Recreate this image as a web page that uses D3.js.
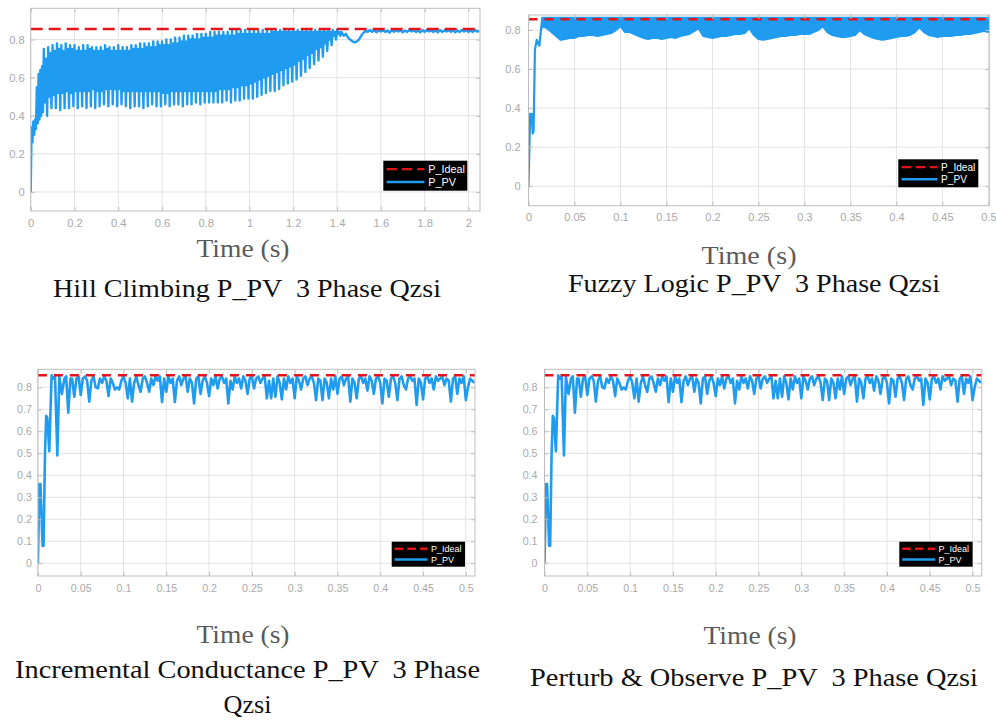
<!DOCTYPE html>
<html>
<head>
<meta charset="utf-8">
<script src="https://cdn.jsdelivr.net/npm/d3@7"></script>
<style>
  body { margin: 0; background: #fff; }
  svg { display: block; }
  text { white-space: pre; }
</style>
</head>
<body>
<svg id="chart" width="996" height="728"></svg>
<script>
// ---------------- data ----------------
const pIdeal = 0.855;

// Hill Climbing: start-up transient (explicit times), oscillation (uniform grid), settled tail
const hcStartT = [0, 0.004, 0.008, 0.012, 0.016, 0.02, 0.024, 0.028, 0.032, 0.036, 0.04, 0.044, 0.048, 0.052, 0.056];
const hcStartV = [0, 0.34, 0.26, 0.37, 0.30, 0.38, 0.33, 0.55, 0.36, 0.62, 0.38, 0.64, 0.40, 0.66, 0.42];
const hcOscT0 = 0.06, hcOscDt = 0.005;
const hcOscV = [
  .75,.47,.70,.40,  .76,.50,.73,.44,  .77,.51,.74,.44,  .78,.52,.75,.43,  .77,.52,.74,.44,
  .78,.53,.75,.44,  .77,.52,.75,.45,  .77,.53,.74,.44,  .76,.53,.74,.45,  .77,.53,.74,.44,
  .77,.53,.75,.45,  .76,.54,.74,.44,  .76,.53,.74,.45,  .76,.53,.74,.46,  .77,.54,.75,.45,
  .76,.54,.74,.46,  .76,.54,.74,.45,  .77,.54,.74,.46,  .76,.53,.74,.45,  .76,.53,.74,.44,
  .77,.53,.75,.45,  .77,.53,.75,.45,  .78,.53,.75,.44,  .78,.53,.76,.45,  .78,.53,.76,.46,
  .79,.53,.76,.45,  .79,.53,.77,.45,  .79,.52,.77,.46,  .80,.52,.77,.45,  .80,.53,.78,.46,
  .81,.53,.78,.46,  .81,.53,.79,.45,  .82,.53,.79,.46,  .82,.53,.80,.46,  .82,.53,.80,.47,
  .83,.53,.80,.46,  .83,.53,.81,.47,  .83,.53,.81,.47,  .84,.53,.81,.47,  .84,.53,.82,.47,
  .84,.54,.82,.47,  .84,.54,.82,.48,  .84,.54,.82,.47,  .85,.55,.82,.48,  .85,.55,.83,.48,
  .85,.56,.83,.49,  .85,.56,.83,.49,  .85,.57,.83,.49,  .85,.58,.83,.50,  .85,.59,.83,.51,
  .85,.60,.83,.52,  .85,.61,.83,.53,  .85,.62,.84,.53,  .85,.63,.84,.54,  .85,.64,.84,.56,
  .85,.65,.84,.57,  .85,.66,.84,.58,  .85,.67,.84,.59,  .85,.69,.84,.61,  .85,.70,.84,.63,
  .85,.72,.84,.65,  .85,.73,.84,.67,  .85,.75,.84,.69,  .85,.76,.84,.71,  .85,.78,.84,.74,
  .85,.80,.84,.77,  .85,.82,.84,.80,  .85,.83,.84,.82
];
const hcTailT0 = 1.42, hcTailDt = 0.01;
const hcTailV = [
  .84,.82,.83,.81,.80,.79,.785,.79,.80,.82,
  .835,.845,.84,.85,.84,.85,.838,.85,.842,.85,
  .84,.848,.836,.85,.84,.85,.842,.85,.838,.848,
  .84,.85,.843,.85,.84,.848,.838,.85,.84,.85,
  .842,.848,.84,.85,.838,.85,.84,.848,.842,.85,
  .84,.85,.838,.848,.84,.85,.842,.85,.84,.848,
  .84,.85,.842,.845
];
const hcXTicks = [0, 0.2, 0.4, 0.6, 0.8, 1, 1.2, 1.4, 1.6, 1.8, 2];
const hcYTicks = [0, 0.2, 0.4, 0.6, 0.8];

// Fuzzy Logic: start-up transient, then a dense ripple band (lower edge per 5 ms bin, upper edge flat)
const flStartT = [0, 0.0018, 0.0035, 0.0045, 0.0055, 0.007, 0.009, 0.0105, 0.0118, 0.0135];
const flStartV = [0, 0.37, 0.37, 0.27, 0.28, 0.70, 0.75, 0.73, 0.72, 0.80];
const flBandT0 = 0.015, flBandDt = 0.005;
const flBandHigh = 0.862;
const flBandLow = [
  .82,.81,.79,.77,.75,.755,.76,.76,.77,.77,
  .775,.775,.77,.775,.78,.785,.80,.82,.79,.79,
  .78,.77,.76,.755,.76,.76,.755,.76,.765,.76,
  .77,.775,.78,.795,.81,.77,.765,.76,.765,.77,
  .77,.775,.78,.78,.785,.81,.775,.755,.75,.755,
  .76,.765,.77,.77,.775,.775,.78,.78,.78,.79,
  .80,.82,.79,.775,.77,.765,.765,.77,.775,.80,
  .78,.77,.76,.755,.75,.755,.76,.765,.77,.77,
  .775,.79,.815,.79,.775,.77,.765,.77,.77,.77,
  .775,.775,.78,.78,.785,.79,.795,.79
];
const flXTicks = [0, 0.05, 0.1, 0.15, 0.2, 0.25, 0.3, 0.35, 0.4, 0.45, 0.5];
const flYTicks = [0, 0.2, 0.4, 0.6, 0.8];

// Incremental Conductance and Perturb & Observe give the same P_PV trace
const icStartT = [0, 0.0017, 0.003, 0.0054, 0.0066, 0.0083, 0.0097, 0.011, 0.0133, 0.016, 0.018, 0.02, 0.0227, 0.025, 0.028, 0.031, 0.033, 0.0355, 0.038];
const icStartV = [0, 0.36, 0.36, 0.08, 0.08, 0.50, 0.67, 0.66, 0.51, 0.855, 0.84, 0.85, 0.49, 0.85, 0.77, 0.84, 0.85, 0.685, 0.84];
const icT0 = 0.04, icDt = 0.0025;
const icV = [
  .84,.757,.84,.85,.765,.84,.85,.83,.735,.83,
  .85,.80,.795,.84,.82,.85,.83,.76,.84,.82,
  .79,.80,.79,.83,.85,.82,.75,.84,.735,.82,
  .85,.81,.78,.84,.85,.82,.78,.84,.81,.85,
  .83,.85,.733,.84,.78,.85,.82,.84,.733,.83,
  .85,.81,.84,.85,.78,.84,.82,.727,.84,.85,
  .77,.83,.85,.82,.76,.84,.81,.85,.795,.84,
  .85,.82,.84,.727,.83,.79,.85,.82,.84,.795,
  .85,.83,.77,.84,.85,.795,.84,.85,.82,.84,
  .85,.75,.83,.75,.84,.757,.85,.82,.745,.84,
  .79,.85,.82,.84,.75,.85,.83,.79,.84,.85,
  .81,.84,.85,.82,.742,.84,.83,.742,.84,.82,
  .75,.84,.79,.85,.77,.84,.85,.81,.84,.85,
  .735,.84,.82,.75,.84,.85,.82,.84,.785,.85,
  .83,.77,.84,.85,.82,.727,.84,.83,.757,.84,
  .85,.82,.742,.84,.85,.81,.79,.84,.85,.83,
  .84,.72,.84,.82,.745,.84,.85,.82,.84,.79,
  .85,.83,.84,.85,.81,.84,.83,.735,.84,.85,
  .77,.84,.82,.85,.742,.80,.84,.83,.82
];
const icXTicks = [0, 0.05, 0.1, 0.15, 0.2, 0.25, 0.3, 0.35, 0.4, 0.45, 0.5];
const icYTicks = [0, 0.1, 0.2, 0.3, 0.4, 0.5, 0.6, 0.7, 0.8];

const legendLabels = ["P_Ideal", "P_PV"];

// ---------------- series assembly ----------------
const pairs = (ts, vs) => vs.map((v, i) => [ts[i], v]);
const grid = (t0, dt, vs) => vs.map((v, i) => [t0 + i * dt, v]);

const hcSeries = [].concat(pairs(hcStartT, hcStartV), grid(hcOscT0, hcOscDt, hcOscV), grid(hcTailT0, hcTailDt, hcTailV));
const flBand = [].concat(
  pairs(flStartT, flStartV).map(([t, v]) => ({ t, lo: v, hi: v })),
  flBandLow.map((lo, i) => ({ t: flBandT0 + i * flBandDt, lo, hi: flBandHigh }))
);
const icSeries = [].concat(pairs(icStartT, icStartV), grid(icT0, icDt, icV));

// ---------------- styling ----------------
const BLUE = "#1f9cf0";
const RED = "#e3141a";
const GRID_C = "#e2e2e2";
const AXIS_C = "#bdbdbd";
const TICK_TXT = "#a9a9a9";
const SANS = "'Liberation Sans', Arial, sans-serif";
const SERIF = "'Liberation Serif', 'Times New Roman', serif";
const CAPTION_SIZE = 25;

const panels = [
  {
    box: { left: 30.7, top: 8.3, right: 480, bottom: 211 },
    xDomain: [0, 2.053], yDomain: [-0.1, 0.964],
    xTicks: hcXTicks, yTicks: hcYTicks,
    tickFont: 11.2, xPad: 8.5, yPad: 6,
    kind: "line", data: hcSeries, blueWidth: 2.4,
    dash: "12,6", redWidth: 2.6,
    legend: { x: 383.3, y: 160.7, w: 84, h: 30 },
    xlabel: { cx: 243, y: 256.7, w: 93 },
    title: [{ text: "Hill Climbing P_PV  3 Phase Qzsi", cx: 247, y: 297, w: 388 }]
  },
  {
    box: { left: 528.5, top: 15, right: 989.3, bottom: 205.7 },
    xDomain: [0, 0.501], yDomain: [-0.1, 0.877],
    xTicks: flXTicks, yTicks: flYTicks,
    tickFont: 11, xPad: 8, yPad: 8,
    kind: "band", data: flBand, blueWidth: 2.2,
    dash: "9,7", redWidth: 2.4,
    legend: { x: 898.3, y: 159.3, w: 80, h: 28 },
    xlabel: { cx: 749, y: 264, w: 95 },
    title: [{ text: "Fuzzy Logic P_PV  3 Phase Qzsi", cx: 754, y: 292, w: 372 }]
  },
  {
    box: { left: 37.9, top: 369.3, right: 475, bottom: 576 },
    xDomain: [0, 0.5107], yDomain: [-0.058, 0.882],
    xTicks: icXTicks, yTicks: icYTicks,
    tickFont: 10.7, xPad: 8.5, yPad: 6,
    kind: "line", data: icSeries, blueWidth: 2.6,
    dash: "9,7", redWidth: 2.6,
    legend: { x: 391.7, y: 541.7, w: 73.3, h: 25 },
    xlabel: { cx: 243, y: 643.3, w: 93 },
    title: [
      { text: "Incremental Conductance P_PV  3 Phase", cx: 247.5, y: 678.3, w: 465 },
      { text: "Qzsi", cx: 247.5, y: 713, w: 48 }
    ]
  },
  {
    box: { left: 544.5, top: 369.3, right: 981.7, bottom: 576 },
    xDomain: [0, 0.5107], yDomain: [-0.058, 0.882],
    xTicks: icXTicks, yTicks: icYTicks,
    tickFont: 10.7, xPad: 8.5, yPad: 7,
    kind: "line", data: icSeries, blueWidth: 2.6,
    dash: "9,7", redWidth: 2.6,
    legend: { x: 899.3, y: 541.7, w: 73.3, h: 25 },
    xlabel: { cx: 750, y: 644, w: 93 },
    title: [{ text: "Perturb & Observe P_PV  3 Phase Qzsi", cx: 754, y: 686, w: 448 }]
  }
];

const fmt = d3.format("~g");
const svg = d3.select("#chart");

function styleAxis(sel, p, showText) {
  sel.select(".domain").remove();
  sel.selectAll(".tick line").attr("stroke", AXIS_C).attr("stroke-width", 1);
  if (showText) {
    sel.selectAll(".tick text")
      .attr("fill", TICK_TXT)
      .attr("font-size", p.tickFont)
      .attr("font-family", SANS);
  } else {
    sel.selectAll(".tick text").remove();
  }
}

panels.forEach((p, idx) => {
  const b = p.box;
  const x = d3.scaleLinear().domain(p.xDomain).range([b.left, b.right]);
  const y = d3.scaleLinear().domain(p.yDomain).range([b.bottom, b.top]);
  const g = svg.append("g");

  const clipId = "plotclip" + idx;
  g.append("clipPath").attr("id", clipId).append("rect")
    .attr("x", b.left).attr("y", b.top)
    .attr("width", b.right - b.left).attr("height", b.bottom - b.top);

  // grid lines
  g.append("g").selectAll("line").data(p.xTicks).join("line")
    .attr("x1", d => x(d)).attr("x2", d => x(d))
    .attr("y1", b.top).attr("y2", b.bottom)
    .attr("stroke", GRID_C).attr("stroke-width", 1);
  g.append("g").selectAll("line").data(p.yTicks).join("line")
    .attr("x1", b.left).attr("x2", b.right)
    .attr("y1", d => y(d)).attr("y2", d => y(d))
    .attr("stroke", GRID_C).attr("stroke-width", 1);

  const plot = g.append("g").attr("clip-path", `url(#${clipId})`);

  // measured P_PV
  if (p.kind === "line") {
    plot.append("path")
      .datum(p.data)
      .attr("d", d3.line().x(d => x(d[0])).y(d => y(d[1])))
      .attr("fill", "none")
      .attr("stroke", BLUE)
      .attr("stroke-width", p.blueWidth)
      .attr("stroke-linejoin", "round");
  } else {
    plot.append("path")
      .datum(p.data)
      .attr("d", d3.area().x(d => x(d.t)).y0(d => y(d.lo)).y1(d => y(d.hi)))
      .attr("fill", BLUE)
      .attr("stroke", BLUE)
      .attr("stroke-width", p.blueWidth)
      .attr("stroke-linejoin", "round");
  }

  // ideal power reference
  plot.append("path")
    .datum([[p.xDomain[0], pIdeal], [p.xDomain[1], pIdeal]])
    .attr("d", d3.line().x(d => x(d[0])).y(d => y(d[1])))
    .attr("fill", "none")
    .attr("stroke", RED)
    .attr("stroke-width", p.redWidth)
    .attr("stroke-dasharray", p.dash);

  // axes with inward ticks on all four sides
  const bottomAx = g.append("g").attr("transform", `translate(0,${b.bottom})`)
    .call(d3.axisBottom(x).tickValues(p.xTicks).tickFormat(fmt).tickSize(-4).tickPadding(p.xPad));
  styleAxis(bottomAx, p, true);
  const topAx = g.append("g").attr("transform", `translate(0,${b.top})`)
    .call(d3.axisTop(x).tickValues(p.xTicks).tickSize(-4));
  styleAxis(topAx, p, false);
  const leftAx = g.append("g").attr("transform", `translate(${b.left},0)`)
    .call(d3.axisLeft(y).tickValues(p.yTicks).tickFormat(fmt).tickSize(-4).tickPadding(p.yPad));
  styleAxis(leftAx, p, true);
  const rightAx = g.append("g").attr("transform", `translate(${b.right},0)`)
    .call(d3.axisRight(y).tickValues(p.yTicks).tickSize(-4));
  styleAxis(rightAx, p, false);

  // axes box
  g.append("rect")
    .attr("x", b.left).attr("y", b.top)
    .attr("width", b.right - b.left).attr("height", b.bottom - b.top)
    .attr("fill", "none").attr("stroke", AXIS_C).attr("stroke-width", 1);

  // legend
  const L = p.legend;
  const lg = g.append("g").attr("transform", `translate(${L.x},${L.y})`);
  lg.append("rect").attr("width", L.w).attr("height", L.h).attr("fill", "#000");
  const rowY = [L.h * 0.28, L.h * 0.71];
  const fs = L.h * 0.36;
  const sx0 = L.w * 0.04, sx1 = L.w * 0.49;
  lg.append("line")
    .attr("x1", sx0).attr("x2", sx1).attr("y1", rowY[0]).attr("y2", rowY[0])
    .attr("stroke", RED).attr("stroke-width", 2.4)
    .attr("stroke-dasharray", `${L.h * 0.34},${L.h * 0.17}`);
  lg.append("line")
    .attr("x1", sx0).attr("x2", sx1).attr("y1", rowY[1]).attr("y2", rowY[1])
    .attr("stroke", BLUE).attr("stroke-width", 2.4);
  lg.selectAll("text").data(legendLabels).join("text")
    .attr("x", L.w * 0.535)
    .attr("y", (d, i) => rowY[i])
    .attr("dy", "0.36em")
    .attr("fill", "#fff")
    .attr("font-family", SANS)
    .attr("font-size", fs)
    .text(d => d);

  // x-axis label
  g.append("text")
    .attr("x", p.xlabel.cx - p.xlabel.w / 2)
    .attr("y", p.xlabel.y)
    .attr("textLength", p.xlabel.w)
    .attr("lengthAdjust", "spacingAndGlyphs")
    .attr("font-family", SERIF)
    .attr("font-size", CAPTION_SIZE)
    .attr("fill", "#5a5a5a")
    .text("Time (s)");

  // caption
  p.title.forEach(t => {
    g.append("text")
      .attr("x", t.cx - t.w / 2)
      .attr("y", t.y)
      .attr("textLength", t.w)
      .attr("lengthAdjust", "spacingAndGlyphs")
      .attr("font-family", SERIF)
      .attr("font-size", CAPTION_SIZE)
      .attr("fill", "#111")
      .text(t.text);
  });
});
</script>
</body>
</html>
